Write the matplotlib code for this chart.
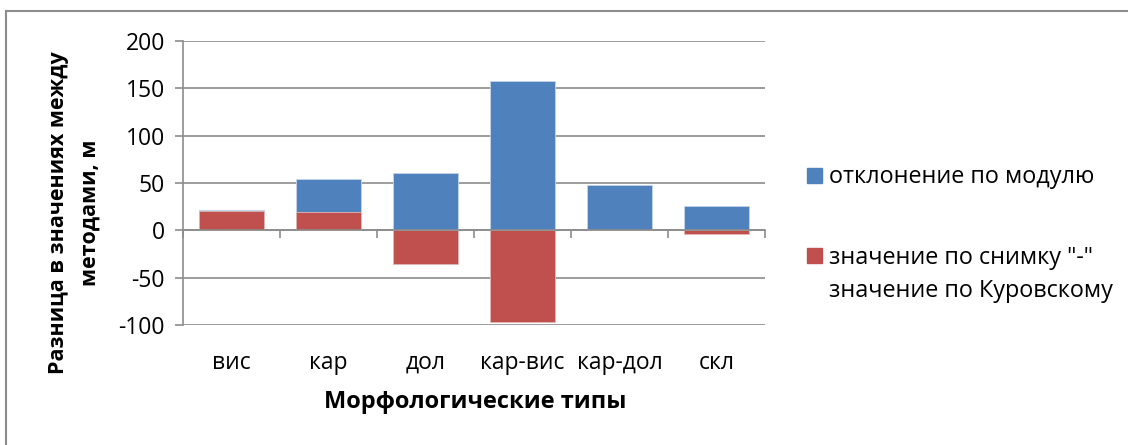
import matplotlib

matplotlib.use('Agg')
import matplotlib.pyplot as plt
from matplotlib.lines import Line2D
from matplotlib.patches import Rectangle
import numpy as np

plt.rcParams['font.family'] = ['Open Sans', 'DejaVu Sans']
plt.rcParams['axes.unicode_minus'] = False

categories = ['вис', 'кар', 'дол', 'кар-вис', 'кар-дол', 'скл']
abs_dev = [21, 54, 61, 158, 48, 26]
diff = [20, 19, -36, -97, 0, -4]
series_names = [['отклонение по модулю'],
                ['значение по снимку "-"', 'значение по Куровскому']]

BLUE = '#4f81bd'
RED = '#c0504d'
GRID = '#8c8c8c'

W, H = 1128, 445
fig = plt.figure(figsize=(W / 100, H / 100), dpi=100)
ax = fig.add_axes([183 / W, 1 - 325 / H, (765 - 183) / W, (325 - 41) / H])

x = np.arange(len(categories))
ax.bar(x, abs_dev, width=0.66, color=BLUE, edgecolor='#c5d5ea', linewidth=0.6, zorder=2)
ax.bar(x, diff, width=0.66, color=RED, edgecolor='#e2b8b6', linewidth=0.6, zorder=3)

ax.set_xlim(-0.5, len(categories) - 0.5)
ax.set_ylim(-100, 200)
ax.set_yticks(range(-100, 201, 50))
ax.yaxis.grid(True, color=GRID, linewidth=1.2, zorder=0)
ax.set_axisbelow(True)

for s in ['top', 'right']:
    ax.spines[s].set_visible(False)
ax.spines['left'].set_color(GRID)
ax.spines['left'].set_linewidth(1.2)
ax.spines['bottom'].set_position(('data', 0))
ax.spines['bottom'].set_color(GRID)
ax.spines['bottom'].set_linewidth(1.2)
ax.spines['bottom'].set_zorder(4)

# category boundaries as x ticks, labels placed below the plot area
ax.set_xticks(np.arange(len(categories) + 1) - 0.5)
ax.set_xticklabels([])
ax.tick_params(axis='x', direction='out', length=6, color=GRID, width=1.2)
ax.tick_params(axis='y', direction='out', length=6, color=GRID, width=1.2,
               labelsize=16.5, pad=7)
for xi, lab in zip(x, categories):
    ax.text(xi, -140, lab, ha='center', va='center', fontsize=16.5)

fig.text(475 / W, 1 - 402 / H, 'Морфологические типы', ha='center', va='center',
         fontsize=17, fontweight='bold')
fig.text(74 / W, 1 - 213 / H, 'Разница в значениях между\nметодами, м', ha='center',
         va='center', rotation=90, fontsize=15.5, fontweight='bold', linespacing=1.65)


def px(xp, yp):
    return xp / W, 1 - yp / H


# legend: colour square plus text lines (baselines in pixels)
legend_rows = [(BLUE, 168, [183]), (RED, 248, [264, 297])]
for (color, sq_top, baselines), lines in zip(legend_rows, series_names):
    fig.add_artist(Rectangle(px(807, sq_top + 15), 15 / W, 15 / H,
                             transform=fig.transFigure, color=color))
    for yb, line in zip(baselines, lines):
        fig.text(*px(829, yb), line, ha='left', va='baseline', fontsize=16.8)

# outer chart frame (left and top edges)
fig.add_artist(Line2D([6 / W, 6 / W], [0, 1 - 11 / H], transform=fig.transFigure,
                      color=GRID, linewidth=1.5))
fig.add_artist(Line2D([6 / W, 1], [1 - 11 / H, 1 - 11 / H], transform=fig.transFigure,
                      color=GRID, linewidth=1.5))

fig.savefig('out.png', dpi=100)
